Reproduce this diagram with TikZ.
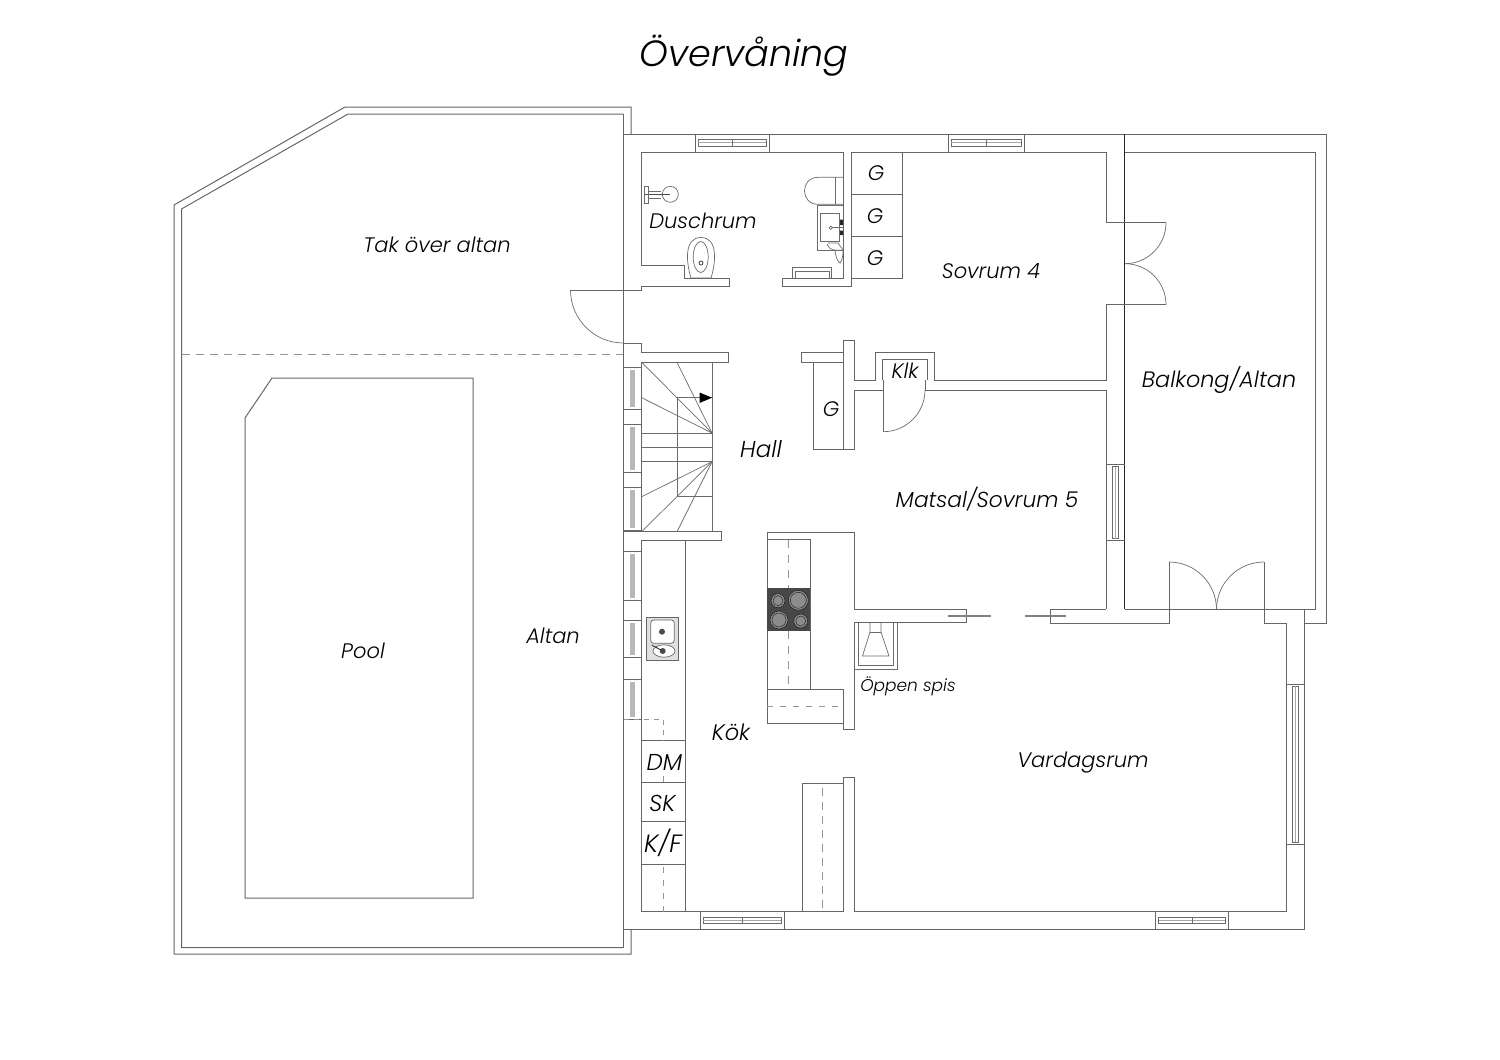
\documentclass[tikz,border=0pt]{standalone}
\usepackage{fontspec}
\setmainfont{Poppins}[ItalicFont={Poppins Light Italic}]
\usepackage{tikz}

\begin{document}
\begin{tikzpicture}[x=1pt,y=-1pt,line join=miter]
  \tikzstyle{wall}=[draw=black!60,line width=1pt]
  \tikzstyle{fine}=[draw=black!58,line width=0.7pt]
  \tikzstyle{cutline}=[draw=black!42,line width=1pt,dash pattern=on 8pt off 6pt]
  \tikzstyle{roomlabel}=[text=black,font=\fontsize{21}{24}\selectfont\itshape,inner sep=0pt]
  \tikzstyle{smalllabel}=[text=black,font=\fontsize{17}{20}\selectfont\itshape,inner sep=0pt]
  \tikzstyle{unitlabel}=[text=black,font=\fontsize{23}{26}\selectfont\itshape,inner sep=0pt]
  \useasboundingbox (0,0) rectangle (1500,1060);

  % altan and pool
  \draw[wall] (631,134) -- (631,107) -- (345,107) -- (174,205) -- (174,954) -- (631,954) -- (631,929);
  \draw[wall] (623.5,114) -- (348,114) -- (181.5,209) -- (181.5,947.5) -- (623.5,947.5);
  \draw[cutline] (181.5,354) -- (623.5,354);
  \draw[wall] (272,378) -- (473,378) -- (473,898) -- (245,898) -- (245,418) -- cycle;

  % outer walls
  \draw[wall] (623.5,114) -- (623.5,947.5);
  \draw[wall] (623.5,134) -- (1326,134) -- (1326,623) -- (1304,623);
  \draw[wall] (623.5,929) -- (1304,929) -- (1304,609);
  \draw[draw=black!85,line width=0.8pt] (1124.7,134) -- (1124.7,609);

  % balcony
  \draw[wall] (1124.7,152) -- (1315,152) -- (1315,609) -- (1124.7,609);
  \draw[wall] (1264,562) -- (1264,623) -- (1286,623) -- (1286,911.7) -- (854,911.7) -- (854,777.7) -- (843.3,777.7) -- (843.3,911.7);
  \draw[wall] (1169,562) -- (1169,623) -- (1050,623) -- (1050,609) -- (1106,609);
  \draw[fine] (1169,562) arc[start angle=-90,end angle=0,radius=47.5];
  \draw[fine] (1264,562) arc[start angle=-90,end angle=-180,radius=47.5];

  % duschrum
  \draw[wall] (843.3,152) -- (641.7,152) -- (641.7,265) -- (684,265) -- (684,278) -- (729,278) -- (729,286) -- (641.5,286) -- (641.5,290) -- (570.5,290);
  \draw[wall] (843.3,152) -- (843.3,278) -- (782,278) -- (782,286) -- (851,286) -- (851,152);
  \draw[wall] (851,152) -- (1106,152) -- (1106,222.7) -- (1166,222.7);
  \draw[wall] (1166,304.7) -- (1106,304.7) -- (1106,380.3) -- (934,380.3) -- (934,352) -- (875,352) -- (875,380.3) -- (854,380.3) -- (854,340) -- (843.3,340) -- (843.3,449.3);
  \draw[fine] (1166,222.7) arc[start angle=0,end angle=90,radius=41];
  \draw[fine] (1125,304.7) ++(0,-41) arc[start angle=-90,end angle=0,radius=41];

  % closets
  \draw[wall] (851,278) -- (902,278) -- (902,152);
  \draw[wall] (851,194) -- (902,194) (851,236) -- (902,236);
  \draw[wall] (882.5,380.3) -- (882.5,359.3) -- (927,359.3) -- (927,380.3);

  % hall walls
  \draw[fine] (570.5,290) arc[start angle=180,end angle=90,radius=53];
  \draw[wall] (623.5,343) -- (641.5,343) -- (641.5,352) -- (728,352) -- (728,362.3) -- (641.7,362.3);
  \draw[wall] (623.5,531.7) -- (721,531.7) -- (721,540) -- (641.7,540);
  \draw[wall] (641.7,362.3) -- (641.7,531.7) (641.7,540) -- (641.7,911.7) -- (843.3,911.7);
  \draw[wall] (843.3,352) -- (801.7,352) -- (801.7,362.3) -- (843.3,362.3);
  \draw[wall] (813.3,362.3) -- (813.3,449.3) -- (854,449.3) -- (854,390.3) -- (883.3,390.3);
  \draw[wall] (883.3,380.3) -- (883.3,431.7);
  \draw[fine] (883.3,431.7) arc[start angle=90,end angle=0,radius=41.7];
  \draw[wall] (925,380.3) -- (925,390.3) -- (1106,390.3) -- (1106,609);

  % stairs
  \draw[fine] (712,362.3) -- (712,531.7);
  \draw[fine] (677,397.7) -- (677,496.7);
  \draw[fine] (677,397.7) -- (712,397.7) (677,496.7) -- (712,496.7);
  \foreach \ya in {433,447.3,461.7}
    \draw[fine] (641.7,\ya) -- (712,\ya);
  \foreach \xa/\ya in {641.7/362.3,677/362.3,641.7/397.7}
    \draw[fine] (712,433) -- (\xa,\ya);
  \foreach \xa/\ya in {641.7/496.7,641.7/531.7,677/531.7}
    \draw[fine] (712,461.7) -- (\xa,\ya);
  \fill[black] (712,397.7) -- (699.5,392.5) -- (699.5,403) -- cycle;

  % windows, left side
  \foreach \ya/\yb in {367.3/409.3,424/472.3,487.7/530.7,551.7/600,620.7/657.7,679/719}{
    \draw[wall] (623.5,\ya) -- (641.7,\ya) (623.5,\yb) -- (641.7,\yb);
    \fill[black!28] (630,\ya+2.5) rectangle (635,\yb-2.5);
  }
  % windows, top and bottom
  \foreach \xa/\xb/\ya/\yb in {695/769.3/134/152,948/1024/134/152,700.3/784.3/911.7/929,1155.7/1228.3/911.7/929}{
    \draw[wall] (\xa,\ya) rectangle (\xb,\yb);
    \draw[fine] (\xa+3,\ya+5.5) rectangle (\xb-3,\yb-5.5);
    \draw[draw=black!35,line width=0.6pt] (\xa+3,\ya+8.7) -- (\xb-3,\ya+8.7);
    \draw[fine] ({(\xa+\xb)/2},\ya+5.5) -- ({(\xa+\xb)/2},\yb-5.5);
  }
  % windows, right side
  \foreach \xa/\xb/\ya/\yb in {1106/1124.7/464.7/540.7,1286/1304/684.3/844.3}{
    \draw[wall] (\xa,\ya) -- (\xb,\ya) (\xa,\yb) -- (\xb,\yb);
    \draw[fine] (\xa+6,\ya+2) rectangle (\xb-6,\yb-2);
    \draw[draw=black!35,line width=0.6pt] ({(\xa+\xb)/2},\ya+2) -- ({(\xa+\xb)/2},\yb-2);
  }

  % kitchen
  \draw[wall] (685,540) -- (685,911.7);
  \foreach \ya in {740,782.3,821.3,864.7}
    \draw[wall] (641.7,\ya) -- (685,\ya);
  \draw[cutline,dash pattern=on 5pt off 5pt] (623.5,719) -- (663,719) -- (663,740);
  \draw[cutline,dash pattern=on 6pt off 7pt] (663,776) -- (663,782.3) (663,867) -- (663,911.7);
  \draw[wall] (854,622.7) -- (854,729.3) -- (843,729.3) -- (843,689.5) -- (767,689.5);
  \draw[wall] (854,622.7) -- (966,622.7) -- (966,609.3) -- (854,609.3) -- (854,532) -- (767,532) -- (767,723) -- (843,723);
  \draw[wall] (767,539.5) -- (810,539.5) -- (810,689.5);
  \draw[cutline,dash pattern=on 8pt off 7pt] (788,539.5) -- (788,587.5) (788,631) -- (788,689.5);
  \draw[cutline,dash pattern=on 6pt off 7pt] (767,706.5) -- (843,706.5);
  \draw[wall] (802,911.7) -- (802,783) -- (843.3,783);
  \draw[cutline] (822,788) -- (822,911.7);
  \draw[draw=black!50,line width=1.3pt] (948,616) -- (991,616) (1025,616) -- (1066,616);

  % hob
  \fill[black!72] (767,587.5) rectangle (810,631);
  \foreach \xa/\ya/\ra in {778/600.7/7,798.3/600.3/10,779/620/9,800.7/621/7}{
    \filldraw[fill=black!45,draw=black!85,line width=0.6pt] (\xa,\ya) circle[radius=\ra];
    \draw[draw=black!85,line width=0.5pt] (\xa,\ya) circle[radius=\ra-2];
  }

  % fireplace
  \draw[fine] (854,669.3) -- (897.7,669.3) -- (897.7,622.7);
  \draw[fine] (858,622.7) -- (858,665) -- (893,665) -- (893,622.7);
  \draw[fine] (870,622.7) -- (870,632) -- (862.5,656) -- (889,656) -- (881,632) -- (881,622.7);
  \draw[fine] (870,632) -- (881,632);

  % kitchen sink
  \filldraw[fill=black!12,draw=black!60,line width=0.8pt] (646.7,617.7) rectangle (678.3,660.7);
  \filldraw[fill=white,draw=black!60,line width=0.7pt,rounded corners=3pt] (650.7,620) rectangle (674.3,643.3);
  \filldraw[fill=white,draw=black!60,line width=0.7pt] (664,651) ellipse[x radius=11,y radius=6.2];
  \fill[black!70] (662,631.7) circle[radius=3] (662.7,651) circle[radius=3];
  \draw[draw=black!75,line width=1pt] (651.7,645) -- (662.7,651);

  % shower
  \draw[fine] (670.3,194.3) circle[radius=8];
  \draw[draw=black!70,line width=1.1pt] (644,194.3) -- (670.3,194.3);
  \draw[fine] (644,186) rectangle (648,203);
  \draw[fine] (648,191) -- (661,191) (648,198) -- (661,198);

  % toilet
  \draw[fine] (701,237.5) .. controls (684,237.5) and (686,262) .. (691,278) -- (711,278) .. controls (716,262) and (718,237.5) .. (701,237.5);
  \draw[fine] (700.7,257) ellipse[x radius=7.5,y radius=15.5];
  \draw[draw=black!75,line width=0.8pt] (701,263) circle[radius=2];

  % washing place
  \draw[fine] (843.3,177.3) -- (818,177.3) .. controls (800,177.3) and (800,204.3) .. (818,204.3) -- (843.3,204.3);
  \draw[fine] (835,177.3) -- (835,204.3);
  \draw[fine] (843.3,205.7) -- (817.7,205.7) -- (817.7,250) -- (843.3,250);
  \draw[fine] (820.7,213) rectangle (839,241);
  \draw[fine] (830.7,227.7) circle[radius=1.6];
  \draw[fine] (832.3,227.7) -- (843,227.7);
  \fill[black!85] (840,219.5) rectangle (843,225) (840,230.5) rectangle (843,235);
  \draw[fine] (828,243) -- (838,243) -- (843,250);
  \draw[fine] (827,244) .. controls (829,250) and (834,251) .. (843,250);
  \draw[fine] (835,251) .. controls (836,258) and (838,262) .. (840,263) .. controls (842,261) and (843,256) .. (843,251);
  \draw[fine] (792.7,278) -- (792.7,267.7) -- (831.7,267.7) -- (831.7,278);
  \draw[fine] (795.7,278) -- (795.7,271) -- (829,271) -- (829,278);

  % labels
  \node[text=black,font=\fontsize{36.5}{40}\selectfont\itshape,inner sep=0pt] (title) at (744,56) {Övervåning};
  \node[roomlabel] (takaltan) at (437,245) {Tak över altan};
  \node[roomlabel] (duschrum) at (703,220.5) {Duschrum};
  \node[roomlabel] (sovrum) at (991,271) {Sovrum 4};
  \node[roomlabel,font=\fontsize{22.3}{24}\selectfont\itshape] (balkong) at (1219,380) {Balkong/Altan};
  \node[roomlabel,font=\fontsize{23}{24}\selectfont\itshape] (hall) at (761,449) {Hall};
  \node[roomlabel,font=\fontsize{21.7}{24}\selectfont\itshape] (matsal) at (987,499.5) {Matsal/Sovrum 5};
  \node[roomlabel] (pool) at (363,650.5) {Pool};
  \node[roomlabel] (altan) at (553,635.5) {Altan};
  \node[smalllabel] (spis) at (908,686) {Öppen spis};
  \node[roomlabel,font=\fontsize{22.5}{24}\selectfont\itshape] (kok) at (731,732) {Kök};
  \node[roomlabel] (vardagsrum) at (1083,762.5) {Vardagsrum};
  \node[unitlabel] (dm) at (664.5,762) {DM};
  \node[unitlabel] (sk) at (662.5,803) {SK};
  \node[unitlabel,font=\fontsize{25}{26}\selectfont\itshape] (kf) at (663,843) {K/F};
  \node[roomlabel] (ga) at (876,173) {G};
  \node[roomlabel] (gb) at (875,216) {G};
  \node[roomlabel] (gc) at (875,258) {G};
  \node[roomlabel] (gd) at (831,409) {G};
  \node[roomlabel] (klk) at (905,371) {Klk};
\end{tikzpicture}
\end{document}
